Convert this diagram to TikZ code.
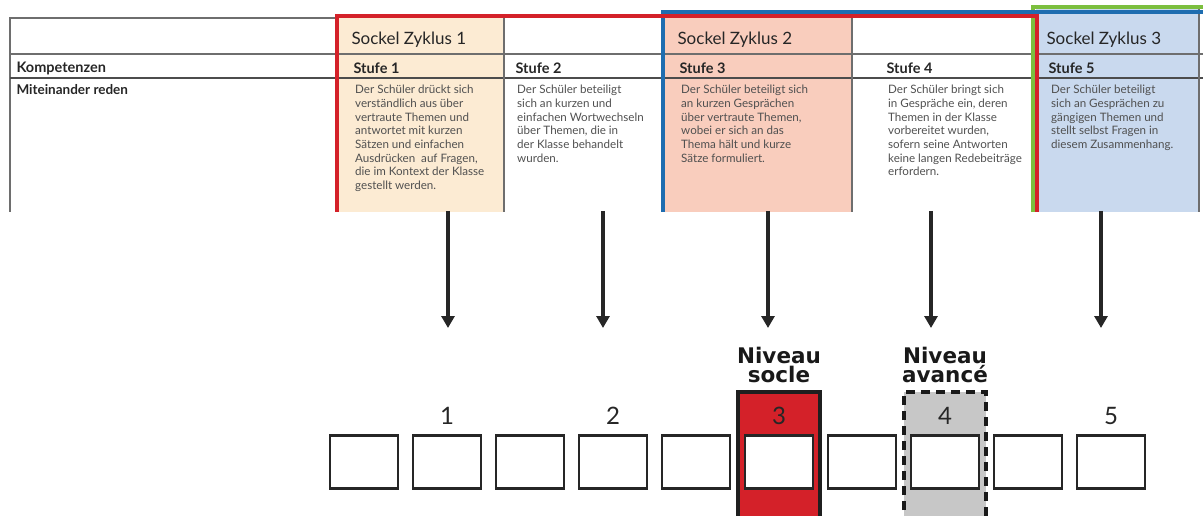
\documentclass[tikz,border=0pt]{standalone}
\usepackage{fontspec}
\setmainfont{Lato}
\newfontfamily\wideface{DejaVu Sans}
\usetikzlibrary{arrows.meta, positioning}
\definecolor{sockelred}{HTML}{D42129}
\definecolor{sockelblue}{HTML}{1E6DB0}
\definecolor{sockelgreen}{HTML}{7CBF3E}
\definecolor{fillone}{HTML}{FCEBD3}
\definecolor{filltwo}{HTML}{F9CDBD}
\definecolor{fillthree}{HTML}{C9D9EE}
\definecolor{grid}{HTML}{6E6E6E}
\definecolor{bodytext}{HTML}{505050}
\tikzset{
	title/.style={anchor=west, font=\fontsize{17}{19}\selectfont, text=black!85},
	stufe/.style={anchor=west, font=\bfseries\fontsize{14.5}{16}\selectfont, text=black!85},
	desc/.style={anchor=north west, align=left, inner sep=0pt, font=\fontsize{11.6}{13.7}\selectfont, text=bodytext},
	cell/.style={draw=black!85, line width=2.6pt, fill=white, minimum width=68pt, minimum height=53pt, inner sep=0pt},
	num/.style={font=\fontsize{24}{24}\selectfont, text=black!85},
	niveau/.style={font=\wideface\bfseries\fontsize{21.5}{19.5}\selectfont, align=center, text=black!90},
	pointer/.style={line width=3.5pt, black!85, -{Triangle[length=12pt,width=13pt]}}
}
\begin{document}
\begin{tikzpicture}[x=1pt, y=-1pt]
		\useasboundingbox (0,0) rectangle (1203,516);
		
		% Spalten
		\fill[fillone] (337,16) rectangle (504,212);
		\fill[filltwo] (663,12) rectangle (852,212);
		\fill[fillthree] (1036,7) rectangle (1199,212);
		
		% Tabellengitter
		\draw[grid, line width=1.2pt] (10,212) -- (10,18) -- (337,18);
		\draw[grid, line width=1.2pt] (10,54) -- (1203,54);
		\draw[black!70, line width=1.3pt] (10,78) -- (1203,78);
		\draw[grid, line width=1.2pt] (504,16) -- (504,212);
		\draw[grid, line width=1.2pt] (852,16) -- (852,212);
		\draw[grid, line width=1.2pt] (1199,7) -- (1199,212);
		
		% Rahmen
		\draw[sockelgreen, line width=4pt] (1033,212) -- (1033,7) -- (1203,7);
		\draw[sockelblue, line width=4pt] (663,212) -- (663,12) -- (1203,12);
		\draw[sockelred, line width=4pt] (337,212) -- (337,16) -- (1037,16) -- (1037,212);
		
		\node[title] (z1) at (348,40) {Sockel Zyklus 1};
		\node[title] (z2) at (674,40) {Sockel Zyklus 2};
		\node[title] (z3) at (1043,40) {Sockel Zyklus 3};
		
		\node[stufe] (komp) at (13,68) {Kompetenzen};
		\node[anchor=west, font=\bfseries\fontsize{13.5}{15}\selectfont, text=black!85] (reden) at (13,90) {Miteinander reden};
		\node[stufe] (s1) at (350,68) {Stufe 1};
		\node[stufe] (s2) at (512,68) {Stufe 2};
		\node[stufe] (s3) at (676,68) {Stufe 3};
		\node[stufe] (s4) at (883,68) {Stufe 4};
		\node[stufe] (s5) at (1045,68) {Stufe 5};
		
		\node[desc] (d1) at (355,85) {Der Schüler drückt sich\\verständlich aus über\\vertraute Themen und\\antwortet mit kurzen\\Sätzen und einfachen\\Ausdrücken\ \ auf Fragen,\\die im Kontext der Klasse\\gestellt werden.};
		\node[desc] (d2) at (517,85) {Der Schüler beteiligt\\sich an kurzen und\\einfachen Wortwechseln\\über Themen, die in\\der Klasse behandelt\\wurden.};
		\node[desc] (d3) at (681,85) {Der Schüler beteiligt sich\\an kurzen Gesprächen\\über vertraute Themen,\\wobei er sich an das\\Thema hält und kurze\\Sätze formuliert.};
		\node[desc] (d4) at (888,85) {Der Schüler bringt sich\\in Gespräche ein, deren\\Themen in der Klasse\\vorbereitet wurden,\\sofern seine Antworten\\keine langen Redebeiträge\\erfordern.};
		\node[desc] (d5) at (1051,85) {Der Schüler beteiligt\\sich an Gesprächen zu\\gängigen Themen und\\stellt selbst Fragen in\\diesem Zusammenhang.};
		
		% Niveaus
		\fill[sockelred] (738,392) rectangle (820,525);
		\draw[black!88, line width=4.5pt] (738,525) -- (738,392) -- (820,392) -- (820,525);
		\fill[black!22] (904,392) rectangle (986,525);
		\draw[black!90, line width=4.5pt, dash pattern=on 9pt off 6pt] (904,525) -- (904,392) -- (986,392) -- (986,525);
		
		\foreach \i in {1,...,10}
			\node[cell] (b\i) at ({364+83*(\i-1)},462) {};
		
		\node[num, above=6pt of b2] (n1) {1};
		\node[num, above=6pt of b4] (n2) {2};
		\node[num, above=6pt of b6] (n3) {3};
		\node[num, above=6pt of b8] (n4) {4};
		\node[num, above=6pt of b10] (n5) {5};
		
		\node[niveau] (socle) at (779,365) {Niveau\\socle};
		\node[niveau] (avance) at (945,365) {Niveau\\avancé};
		
		% Pfeile
		\foreach \x [count=\k] in {448,603,768,931,1101} {
			\coordinate (top\k) at (\x,211);
			\coordinate (tip\k) at (\x,328);
			\draw[pointer] (top\k) -- (tip\k);
		}
	\end{tikzpicture}
\end{document}
